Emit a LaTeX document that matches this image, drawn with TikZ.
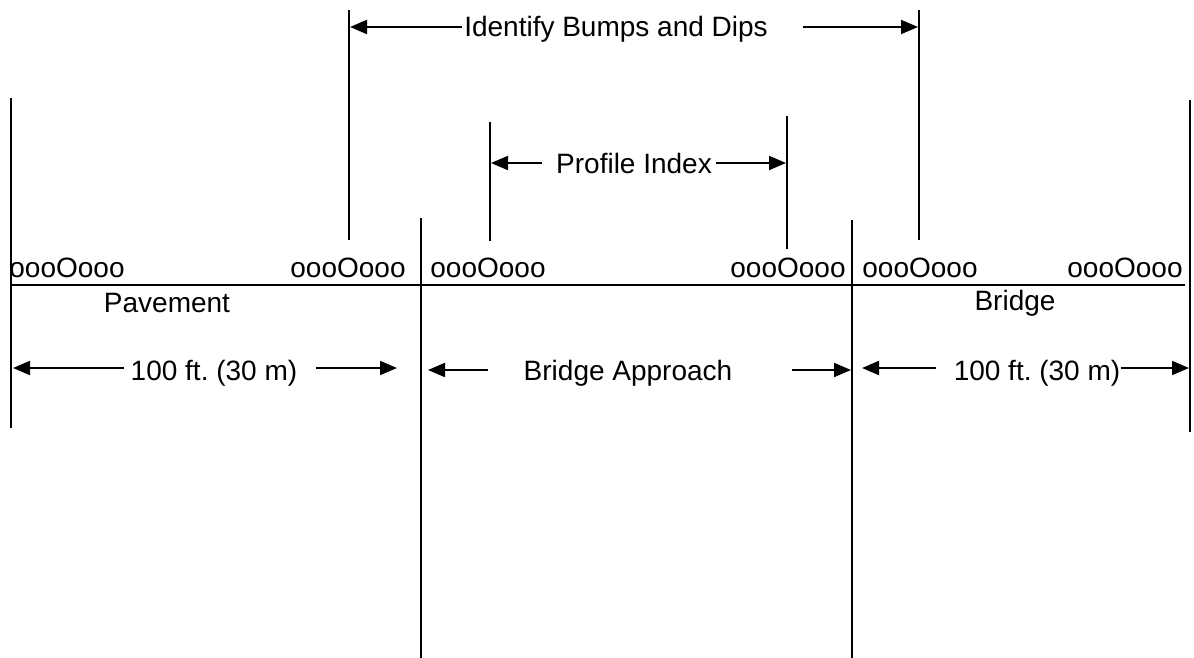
\documentclass[tikz,border=0pt]{standalone}
\usepackage{fontspec}
\setmainfont{Liberation Sans}
\usetikzlibrary{arrows.meta}
\tikzset{
  markline/.style={line width=1pt},
  dimarrow/.style={line width=1pt, -{Triangle[length=8.5pt,width=7pt]}},
  lbl/.style={font=\fontsize{14}{16}\selectfont\frenchspacing, inner sep=0pt, anchor=base},
}
\begin{document}
\begin{tikzpicture}[x=0.5pt,y=-0.5pt]
  \useasboundingbox (0,0) rectangle (1194,658);

  % Section boundaries
  \draw[markline] (11,98) -- (11,428);
  \draw[markline] (421,218) -- (421,658);
  \draw[markline] (852,220) -- (852,658);
  \draw[markline] (1190,100) -- (1190,432);

  % Measurement limits
  \draw[markline] (349,10) -- (349,240);
  \draw[markline] (919,10) -- (919,240);
  \draw[markline] (490,122) -- (490,241);
  \draw[markline] (787,116) -- (787,249);

  % Surface
  \draw[markline] (11,285) -- (1185,285);

  % Profile marks
  \foreach \x/\name in {67/pa, 348/pb, 488/pc, 788/pd, 920/pe, 1125/pf}
    \node[lbl] (\name) at (\x,277) {oooOooo};

  \node[lbl] (pave) at (167,312) {Pavement};
  \node[lbl] (bridge) at (1015,310) {Bridge};

  % Lengths
  \node[lbl] (lenL) at (214,380) {100 ft. (30 m)};
  \node[lbl] (appr) at (628,380) {Bridge Approach};
  \node[lbl] (lenR) at (1037,380) {100 ft. (30 m)};

  \coordinate (lenLa) at (13,368);
  \coordinate (lenLb) at (397,368);
  \coordinate (appra) at (428,370);
  \coordinate (apprb) at (851,370);
  \coordinate (lenRa) at (862,368);
  \coordinate (lenRb) at (1189,368);

  \draw[dimarrow] ([xshift=-3pt]lenLa -| lenL.west) -- (lenLa);
  \draw[dimarrow] ([xshift=9pt]lenLb -| lenL.east) -- (lenLb);
  \draw[dimarrow] ([xshift=-17.5pt]appra -| appr.west) -- (appra);
  \draw[dimarrow] ([xshift=29.5pt]apprb -| appr.east) -- (apprb);
  \draw[dimarrow] ([xshift=-8.5pt]lenRa -| lenR.west) -- (lenRa);
  \draw[dimarrow] (lenRb -| lenR.east) -- (lenRb);

  % Bumps and dips
  \node[lbl] (bump) at (616,37) {Identify Bumps and Dips};
  \coordinate (bumpa) at (350,27);
  \coordinate (bumpb) at (918,27);
  \draw[dimarrow] ([xshift=-1pt]bumpa -| bump.west) -- (bumpa);
  \draw[dimarrow] ([xshift=17.5pt]bumpb -| bump.east) -- (bumpb);

  % Profile index
  \node[lbl] (index) at (634,173) {Profile Index};
  \coordinate (indexa) at (491,163);
  \coordinate (indexb) at (786,163);
  \draw[dimarrow] ([xshift=-7pt]indexa -| index.west) -- (indexa);
  \draw[dimarrow] ([xshift=2pt]indexb -| index.east) -- (indexb);

\end{tikzpicture}
\end{document}
